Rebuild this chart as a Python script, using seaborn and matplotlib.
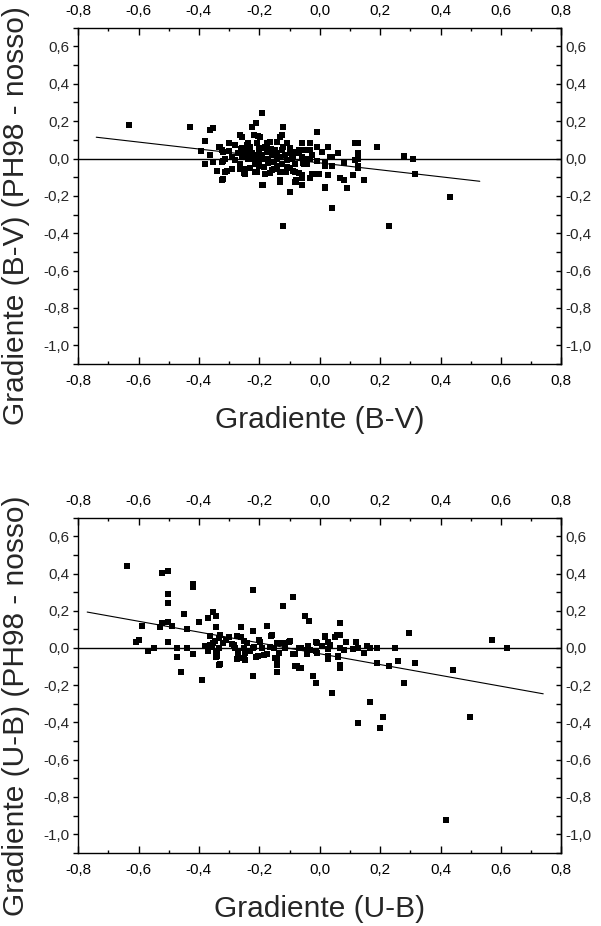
""" Gradient comparison: PH98 minus ours, for (B-V) and (U-B). """
import pandas as pd
import seaborn as sns
import matplotlib.pyplot as plt
from matplotlib.ticker import MultipleLocator, FixedLocator, FuncFormatter

# --- (B-V) panel values ---
bv_x = [-0.63, -0.43, -0.38, -0.363, -0.352, -0.392, -0.381, -0.352, -0.363, -0.34,
        -0.319, -0.307, -0.329, -0.319, -0.302, -0.319, -0.302, -0.291, -0.291, -0.28,
        -0.28, -0.258, -0.258, -0.263, -0.247, -0.241, -0.225, -0.219, -0.21, -0.191,
        -0.199, -0.189, -0.208, -0.175, -0.158, -0.131, -0.12, -0.131, -0.12, -0.1,
        -0.111, -0.081, -0.078, -0.059, -0.059, -0.059, -0.07, -0.042, -0.034,
        -0.009, -0.031, -0.031, -0.009, 0.029, 0.007, 0.04, 0.059, 0.118, 0.128,
        0.128, 0.118, 0.128, 0.128, 0.128, 0.079, 0.109, 0.148, 0.089, 0.068,
        0.079, 0.029, 0.04, 0.018, 0.019, 0.039, -0.001, -0.021, -0.031, -0.06,
        -0.08, -0.13, 0.188, 0.278, 0.309, 0.317, 0.43, 0.228, -0.009, -0.031,
        -0.051, -0.109, -0.142, -0.164, -0.18, -0.087,
        -0.263, -0.203, -0.125, -0.236, -0.208, -0.335, -0.324, -0.258, -0.241, -0.191,
        -0.175, -0.147, -0.125, -0.098, -0.081, -0.048, -0.252, -0.224, -0.203, -0.158,
        -0.114, -0.07, -0.026, -0.313, -0.236, -0.186, -0.142, -0.092, -0.048, 0.035,
        -0.324, -0.263, -0.214, -0.17, -0.125, -0.081, -0.054, 0.018, -0.247, -0.186,
        -0.153, -0.109, -0.313, -0.252, -0.214, -0.164, -0.131, -0.07, -0.026, -0.324,
        -0.081, -0.191, 0.018,
        -0.27, -0.23, -0.2, -0.18, -0.16, -0.14, -0.12, -0.1, -0.19, -0.17,
        -0.15, -0.13, -0.11, -0.09, -0.2, -0.22, -0.24, -0.26, -0.2, -0.14,
        -0.1, -0.06, -0.23, -0.17]
bv_y = [0.18, 0.17, 0.095, 0.152, 0.161, 0.041, -0.031, -0.018, 0.018, -0.068,
        -0.111, -0.068, 0.059, 0.036, 0.041, -0.013, 0.081, 0.009, -0.054, 0.071,
        -0.009, 0.116, 0.009, -0.054, -0.081, 0.071, 0.17, 0.125, 0.188, 0.242,
        0.116, -0.144, -0.072, 0.081, -0.063, 0.116, 0.17, -0.117, -0.364, -0.181,
        -0.072, -0.072, -0.117, -0.144, -0.09, 0.081, 0.045, -0.027, 0.045,
        0.14, 0.081, 0.048, 0.059, 0.059, 0.036, 0.009, 0.027, 0.081, 0.081,
        0.027, -0.009, 0.0, -0.041, -0.05, -0.024, -0.091, -0.113, -0.156, -0.102,
        -0.113, -0.091, -0.041, -0.041, -0.156, -0.263, -0.081, -0.081, -0.102, -0.102,
        -0.124, -0.124, 0.059, 0.016, 0.0, -0.081, -0.204, -0.364, -0.013, 0.0,
        -0.027, 0.081, 0.089, 0.089, -0.081, -0.068,
        0.125, 0.12, 0.125, 0.081, 0.084, 0.063, 0.045, 0.054, 0.045, 0.054,
        0.036, 0.045, 0.048, 0.054, 0.036, 0.045, 0.027, 0.027, 0.018, 0.018,
        0.018, 0.027, 0.018, 0.0, 0.0, -0.005, 0.0, 0.0, 0.0, 0.009,
        -0.018, -0.027, -0.027, -0.024, -0.027, -0.027, -0.024, -0.018, -0.054, -0.045,
        -0.054, -0.048, -0.072, -0.077, -0.072, -0.077, -0.072, -0.077, -0.081, -0.113,
        -0.126, -0.144, -0.153,
        0.03, 0.06, 0.05, 0.06, 0.05, 0.03, 0.06, 0.03, 0.02, 0.0,
        -0.02, 0.01, -0.01, 0.01, -0.01, 0.0, 0.02, 0.05, -0.04, -0.04,
        -0.05, 0.01, -0.05, 0.04]
bv_fit_x = [-0.74, 0.53]
bv_fit_y = [0.114, -0.122]

# --- (U-B) panel values ---
ub_x = [-0.638, -0.521, -0.501, -0.501, -0.501, -0.501, -0.521, -0.53, -0.489, -0.59,
        -0.61, -0.6, -0.57, -0.55, -0.501, -0.471, -0.471, -0.46, -0.451, -0.441,
        -0.441, -0.421, -0.421, -0.421, -0.401, -0.391, -0.381, -0.371, -0.371, -0.362,
        -0.362, -0.352, -0.342, -0.342, -0.352, -0.342, -0.342, -0.332, -0.332, -0.332,
        -0.321, -0.312, -0.302, -0.291, -0.282, -0.272, -0.272, -0.261, -0.261, -0.252,
        -0.252, -0.241, -0.232, -0.221, -0.221, -0.221, -0.221, -0.211, -0.201, -0.191,
        -0.173, -0.173, -0.162, -0.151, -0.142, -0.142, -0.142, -0.122, -0.122, -0.102,
        -0.09, -0.081, -0.07, -0.062, -0.05, -0.034, -0.042, -0.042,
        0.068, 0.068, 0.049, 0.019, 0.029, -0.012, 0.088, 0.008, -0.04, -0.062,
        0.068, 0.12, 0.128, 0.11, 0.158, 0.167, 0.188, 0.148, 0.079, 0.029,
        -0.012, -0.081, 0.029, 0.059, 0.068, 0.188, 0.228, 0.248, 0.258, 0.297,
        0.317, 0.278, 0.44, 0.569, 0.619, 0.498, 0.417, 0.128, 0.167, 0.198,
        0.208, 0.039, -0.011, -0.021,
        -0.329, -0.274, -0.158, -0.098, 0.018, 0.057, -0.346, -0.252, -0.197, -0.142,
        -0.009, 0.035, -0.357, -0.285, -0.219, -0.164, -0.114, -0.07, -0.031, -0.34,
        -0.269, -0.247, -0.186, -0.136, -0.087, -0.009, 0.029, 0.062, -0.34, -0.274,
        -0.247, -0.203, -0.147, -0.329, -0.142, -0.075, 0.068]
ub_y = [0.442, 0.403, 0.414, 0.29, 0.242, 0.14, 0.134, 0.113, 0.12, 0.12,
        0.032, 0.043, -0.018, 0.0, 0.032, 0.0, -0.048, -0.129, 0.183, 0.102,
        0.0, 0.344, 0.33, -0.031, 0.14, -0.17, 0.009, 0.161, -0.018, 0.066,
        0.018, 0.193, 0.174, 0.113, 0.027, -0.018, -0.048, -0.091, 0.0, 0.054,
        0.027, 0.045, 0.057, 0.022, 0.0, -0.018, -0.054, 0.113, 0.057, 0.0,
        -0.054, 0.027, -0.018, 0.313, 0.089, 0.0, -0.149, -0.048, 0.041, 0.0,
        0.116, -0.031, 0.062, 0.0, -0.058, -0.091, -0.131, 0.224, 0.027, 0.03,
        0.274, -0.095, -0.108, -0.108, 0.17, 0.143, -0.009, -0.034,
        0.134, 0.071, 0.059, 0.059, 0.03, 0.032, 0.03, 0.012, 0.012, 0.0,
        0.0, 0.032, 0.0, -0.004, 0.012, 0.0, 0.0, -0.027, -0.011, -0.004,
        -0.016, -0.032, -0.058, -0.048, -0.11, -0.081, -0.097, 0.0, -0.07, 0.081,
        -0.081, -0.188, -0.118, 0.043, 0.0, -0.371, -0.925, -0.403, -0.29, -0.43,
        -0.371, -0.242, -0.188, -0.151,
        0.072, 0.062, 0.072, 0.036, 0.062, 0.072, 0.036, 0.036, 0.03, 0.027,
        0.027, 0.018, 0.007, 0.018, 0.007, 0.003, 0.0, 0.0, -0.009, -0.027,
        -0.027, -0.027, -0.036, -0.027, -0.031, -0.027, -0.045, -0.045, -0.045, -0.059,
        -0.063, -0.041, -0.054, -0.084, -0.081, -0.099, -0.09]
ub_fit_x = [-0.77, 0.74]
ub_fit_y = [0.193, -0.246]

# tick positions shown on the y axes
y_major = [-1.0, -0.8, -0.6, -0.4, -0.2, 0.0, 0.2, 0.4, 0.6]
y_minor = [-1.1, -0.9, -0.7, -0.5, -0.3, -0.1, 0.1, 0.3, 0.5, 0.7]
x_major = [-0.8, -0.6, -0.4, -0.2, 0.0, 0.2, 0.4, 0.6, 0.8]

sns.set_style("ticks")
plt.rcParams['font.family'] = ['Liberation Sans', 'DejaVu Sans']

comma = FuncFormatter(lambda v, pos: f"{v:.1f}".replace('.', ','))


def draw_panel(ax, x, y, fit_x, fit_y, xlabel, ylabel):
    """ Scatter, linear fit and zero line in a boxed Origin-like frame."""
    data = pd.DataFrame({'x': x, 'y': y})
    fit = pd.DataFrame({'x': fit_x, 'y': fit_y})
    ax.axhline(0, color='black', lw=1.0, zorder=1)
    sns.lineplot(data=fit, x='x', y='y', color='black', lw=0.8, ax=ax)
    sns.scatterplot(data=data, x='x', y='y', marker='s', s=18, color='black',
                    linewidth=0, ax=ax, zorder=3)
    ax.set_xlim(-0.8, 0.8)
    ax.set_ylim(-1.1, 0.7)
    for sp in ax.spines.values():
        sp.set_visible(True)
        sp.set_linewidth(1.0)
        sp.set_color('black')

    ax.xaxis.set_major_locator(FixedLocator(x_major))
    ax.xaxis.set_minor_locator(MultipleLocator(0.1))
    ax.yaxis.set_major_locator(FixedLocator(y_major))
    ax.yaxis.set_minor_locator(FixedLocator(y_minor))
    ax.xaxis.set_major_formatter(comma)
    ax.yaxis.set_major_formatter(comma)
    ax.tick_params(axis='x', which='both', direction='in', top=True, bottom=True,
                   labeltop=True, labelbottom=True, labelsize=11, pad=7,
                   color='black', labelcolor='black')
    ax.tick_params(axis='x', which='major', length=5, width=1)
    ax.tick_params(axis='x', which='minor', length=2.5, width=1)
    ax.tick_params(axis='y', which='both', direction='out', left=True, right=False,
                   labelsize=11, pad=3, length=3.5, width=1, color='black')

    # right axis: inward ticks with labels
    sec = ax.secondary_yaxis('right')
    sec.yaxis.set_major_locator(FixedLocator(y_major))
    sec.yaxis.set_minor_locator(FixedLocator(y_minor))
    sec.yaxis.set_major_formatter(comma)
    sec.tick_params(which='both', direction='in', length=3.5, width=1,
                    labelsize=11, pad=3, color='black')
    sec.spines['right'].set_linewidth(1.0)

    ax.set_xlabel(xlabel, fontsize=21.5)
    ax.set_ylabel(ylabel, fontsize=21.5)
    ax.xaxis.set_label_coords(0.5, -0.125)
    ax.yaxis.set_label_coords(-0.10, 0.44)


fig = plt.figure(figsize=(6.01, 9.26), dpi=100)
ax_top = fig.add_axes([0.130, 0.607, 0.804, 0.363])
ax_bot = fig.add_axes([0.130, 0.079, 0.804, 0.362])

draw_panel(ax_top, bv_x, bv_y, bv_fit_x, bv_fit_y,
           'Gradiente (B-V)', 'Gradiente (B-V) (PH98 - nosso)')
draw_panel(ax_bot, ub_x, ub_y, ub_fit_x, ub_fit_y,
           'Gradiente (U-B)', 'Gradiente (U-B) (PH98 - nosso)')

fig.savefig('out.png', dpi=100, facecolor='white')
